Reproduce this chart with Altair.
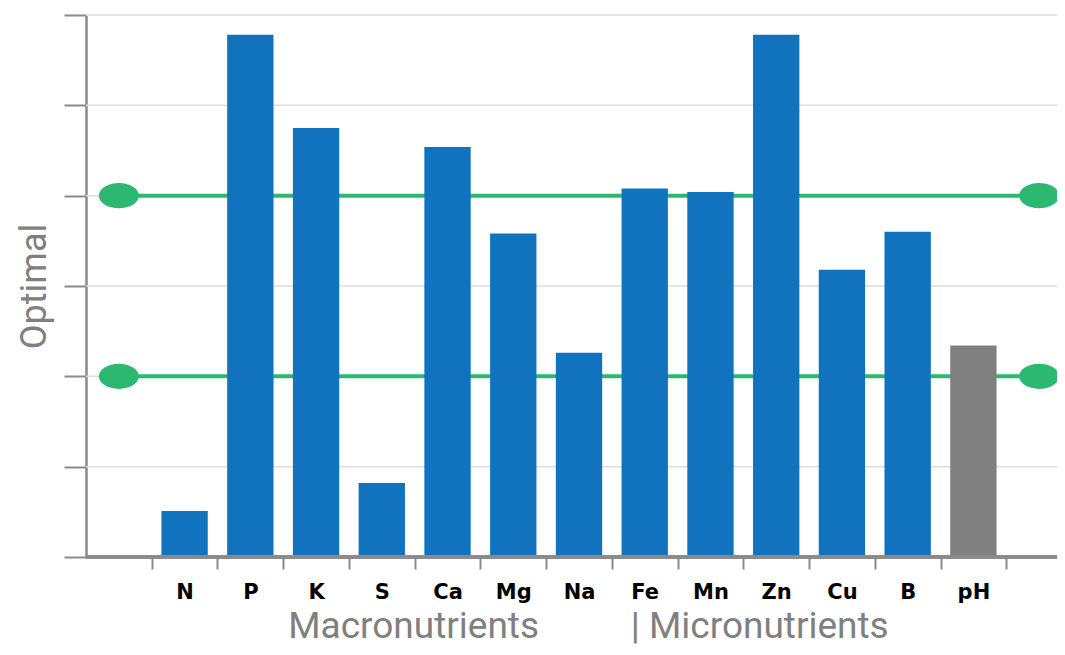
import altair as alt
import pandas as pd

# ---- data ----
categories = ["N", "P", "K", "S", "Ca", "Mg", "Na", "Fe", "Mn", "Zn", "Cu", "B", "pH"]
values = [0.51, 5.78, 4.75, 0.82, 4.54, 3.58, 2.26, 4.08, 4.04, 5.78, 3.18, 3.60, 2.34]
groups = ["nutrient"] * 12 + ["ph"]
optimal_low = 2
optimal_high = 4
y_ticks = [0, 1, 2, 3, 4, 5, 6]
x_title = "Macronutrients" + "\u00a0" * 10 + "| Micronutrients"
y_title = "Optimal"

edge_left = "_L"
edge_right = "_R"
x_domain = [edge_left] + categories + [edge_right]

bars_df = pd.DataFrame({"cat": categories, "val": values, "grp": groups})
lines_df = pd.DataFrame({"x1": [edge_left, edge_left], "x2": [edge_right, edge_right],
                         "y": [optimal_low, optimal_high]})
dots_df = pd.DataFrame({"cat": [edge_left, edge_right, edge_left, edge_right],
                        "y": [optimal_high, optimal_high, optimal_low, optimal_low]})
grid_df = pd.DataFrame({"y": y_ticks})

GREEN = "#2DB872"
AXIS_GRAY = "#8a8a8a"
ELLIPSE = ("M -1 0 C -1 -0.348 -0.552 -0.63 0 -0.63 C 0.552 -0.63 1 -0.348 1 0 "
           "C 1 0.348 0.552 0.63 0 0.63 C -0.552 0.63 -1 0.348 -1 0 Z")

x_scale = alt.Scale(domain=x_domain, range=[0, 986], paddingInner=0, paddingOuter=0)
y_scale = alt.Scale(domain=[0, 6], nice=False)

x_axis = alt.Axis(
    values=categories,
    tickBand="extent",
    labelAngle=0,
    labelFont="DejaVu Sans",
    labelFontWeight="bold",
    labelFontSize=21,
    labelColor="black",
    labelPadding=12,
    tickSize=12,
    tickColor=AXIS_GRAY,
    tickWidth=2,
    domain=False,
    grid=False,
    title=x_title,
    titleFont="Roboto",
    titleFontSize=37,
    titleFontWeight="normal",
    titleColor="#808080",
    titlePadding=6,
    titleX=502,
)

y_axis = alt.Axis(
    values=y_ticks,
    labels=False,
    tickSize=22,
    tickColor=AXIS_GRAY,
    tickWidth=2,
    domainColor=AXIS_GRAY,
    domainWidth=2.5,
    grid=False,
    title=y_title,
    titleFont="Roboto",
    titleFontSize=36,
    titleFontWeight="normal",
    titleColor="#808080",
    titlePadding=10,
)

grid = alt.Chart(grid_df).mark_rule(color="#dddddd", strokeWidth=1.5).encode(
    y=alt.Y("y:Q", scale=y_scale, axis=y_axis),
)

lines = alt.Chart(lines_df).mark_rule(color=GREEN, strokeWidth=4).encode(
    x=alt.X("x1:N", scale=x_scale, axis=x_axis, sort=x_domain),
    x2="x2:N",
    y=alt.Y("y:Q", scale=y_scale),
)

dots = alt.Chart(dots_df).mark_point(
    filled=True, opacity=1, color=GREEN, size=1600, shape=ELLIPSE,
).encode(
    x=alt.X("cat:N", scale=x_scale, sort=x_domain),
    y=alt.Y("y:Q", scale=y_scale),
)

bars = alt.Chart(bars_df).mark_bar(width=alt.RelativeBandSize(0.705)).encode(
    x=alt.X("cat:N", scale=x_scale, sort=x_domain),
    y=alt.Y("val:Q", scale=y_scale),
    color=alt.Color("grp:N", scale=alt.Scale(domain=["nutrient", "ph"],
                                             range=["#1173BD", "#808080"]), legend=None),
)

baseline = alt.Chart(bars_df).mark_rule(color=AXIS_GRAY, strokeWidth=2.5).encode(
    y=alt.datum(0, scale=y_scale)
)

chart = alt.layer(grid, lines, dots, bars, baseline).properties(
    width=971,
    height=542,
    autosize=alt.AutoSizeParams(type="none"),
    padding={"left": 78, "top": 7, "right": 0, "bottom": 90},
    background="white",
).configure_view(stroke=None)

chart.save("out.html", embed_options={"renderer": "svg", "actions": False})
